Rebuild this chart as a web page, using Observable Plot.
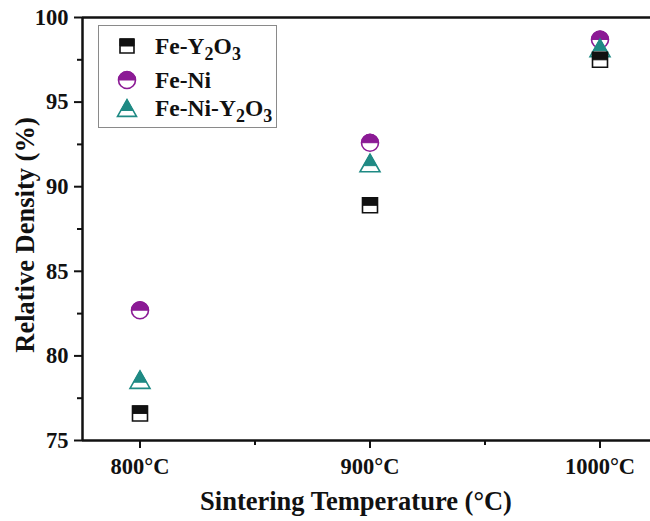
<!DOCTYPE html>
<html>
<head>
<meta charset="utf-8">
<script src="https://cdn.jsdelivr.net/npm/d3@7"></script>
<script src="https://cdn.jsdelivr.net/npm/@observablehq/plot@0.6"></script>
<style>
  html, body { margin: 0; padding: 0; background: #fff; }
  #wrap { position: relative; width: 650px; height: 521px; overflow: hidden; }
  #legend {
    position: absolute; left: 98px; top: 25px; width: 179px; height: 103px;
    border: 1.5px solid #8a8a8a; box-sizing: border-box; background: #fff;
    font-family: "Liberation Serif", serif; font-weight: bold; font-size: 23.5px; color: #111;
  }
  .row { position: absolute; left: 0; display: flex; align-items: center; height: 26px; }
  .row svg { margin-left: 16px; margin-right: 16px; }
  sub { font-size: 18px; vertical-align: -6px; line-height: 0; }
</style>
</head>
<body>
<div id="wrap"></div>
<script>
const temperatures = [800, 900, 1000];
const feY2O3 = [76.6, 88.9, 97.5];
const feNi = [82.7, 92.6, 98.7];
const feNiY2O3 = [78.6, 91.4, 98.2];
const seriesNames = ["Fe-Y2O3", "Fe-Ni", "Fe-Ni-Y2O3"];
const colors = ["#111111", "#8b1a95", "#1f8a84"];
const yMajor = [75, 80, 85, 90, 95, 100];
const yMinor = [77.5, 82.5, 87.5, 92.5, 97.5];
const xMinor = [850, 950];

function rows(vals) { return temperatures.map((t, i) => ({t, v: vals[i]})); }

const sqOut = {draw(c, size) { const r = Math.sqrt(size / Math.PI); c.rect(-r, -r, 2*r, 2*r); }};
const sqTop = {draw(c, size) { const r = Math.sqrt(size / Math.PI); c.rect(-r, -r, 2*r, r); }};
const ciOut = {draw(c, size) { const r = Math.sqrt(size / Math.PI); c.moveTo(r, 0); c.arc(0, 0, r, 0, 2*Math.PI); c.closePath(); }};
const ciTop = {draw(c, size) { const r = Math.sqrt(size / Math.PI); c.moveTo(-r, 0); c.arc(0, 0, r, Math.PI, 2*Math.PI); c.closePath(); }};
const trOut = {draw(c, size) { const r = Math.sqrt(size / Math.PI); const h = r*0.88;
  c.moveTo(0, -h); c.lineTo(r, h); c.lineTo(-r, h); c.closePath(); }};
const trTop = {draw(c, size) { const r = Math.sqrt(size / Math.PI); const h = r*0.88; const m = h*0.3;
  const w = r * (m + h) / (2*h);
  c.moveTo(0, -h); c.lineTo(w, m); c.lineTo(-w, m); c.closePath(); }};

function series(vals, out, top, color, r) {
  const d = rows(vals);
  return [
    Plot.dot(d, {x: "t", y: "v", symbol: out, r, fill: "white", stroke: color, strokeWidth: 1.6}),
    Plot.dot(d, {x: "t", y: "v", symbol: top, r, fill: color, stroke: color, strokeWidth: 1})
  ];
}

const font = "'Liberation Serif', 'Times New Roman', serif";

const chart = Plot.plot({
  width: 650, height: 521,
  marginLeft: 82, marginTop: 17, marginBottom: 81, marginRight: -7,
  style: {fontFamily: font, fontWeight: "bold", fontSize: "22.5px", color: "#111", background: "white"},
  x: {domain: [775, 1025]},
  y: {domain: [75, 100]},
  marks: [
    Plot.axisY({ticks: yMajor, tickSize: 8, tickPadding: 6, strokeWidth: 2, label: null, fontSize: 22.5}),
    Plot.axisY({ticks: yMinor, tickSize: 5, text: null, strokeWidth: 2, label: null}),
    Plot.axisX({ticks: temperatures, tickSize: 8, tickPadding: 10, strokeWidth: 2, label: null, tickFormat: d => d + "°C", fontSize: 22.5}),
    Plot.axisX({ticks: xMinor, tickSize: 5, text: null, strokeWidth: 2, label: null}),
    Plot.ruleX([775], {stroke: "#111", strokeWidth: 2.5}),
    Plot.ruleY([75], {stroke: "#111", strokeWidth: 2.5}),
    Plot.ruleY([100], {stroke: "#111", strokeWidth: 2.5}),
    ...series(feNi, ciOut, ciTop, colors[1], 8.5),
    ...series(feNiY2O3, trOut, trTop, colors[2], 10),
    ...series(feY2O3, sqOut, sqTop, colors[0], 7.5),
    Plot.text(["Relative Density (%)"], {frameAnchor: "left", textAnchor: "middle", lineAnchor: "middle", dx: -57, dy: 6, rotate: -90, fontSize: 26.5, fontWeight: "bold", fill: "#111"}),
    Plot.text(["Sintering Temperature (°C)"], {frameAnchor: "bottom", textAnchor: "middle", lineAnchor: "middle", dx: -14, dy: 61, fontSize: 26.5, fontWeight: "bold", fill: "#111"})
  ]
});

const wrap = document.getElementById("wrap");
wrap.appendChild(chart);

function symSvg(out, top, color, r) {
  const s = r * r * Math.PI;
  const p1 = d3.symbol(out, s)();
  const p2 = d3.symbol(top, s)();
  return `<svg width="24" height="24" viewBox="-12 -12 24 24"><path d="${p1}" fill="white" stroke="${color}" stroke-width="1.6"/><path d="${p2}" fill="${color}" stroke="${color}" stroke-width="1"/></svg>`;
}
const legend = document.createElement("div");
legend.id = "legend";
legend.innerHTML =
  `<div class="row" style="top:7px">${symSvg(sqOut, sqTop, colors[0], 7)}<span>Fe-Y<sub>2</sub>O<sub>3</sub></span></div>` +
  `<div class="row" style="top:41px">${symSvg(ciOut, ciTop, colors[1], 8.5)}<span>Fe-Ni</span></div>` +
  `<div class="row" style="top:69px">${symSvg(trOut, trTop, colors[2], 9.5)}<span>Fe-Ni-Y<sub>2</sub>O<sub>3</sub></span></div>`;
wrap.appendChild(legend);
</script>
</body>
</html>
